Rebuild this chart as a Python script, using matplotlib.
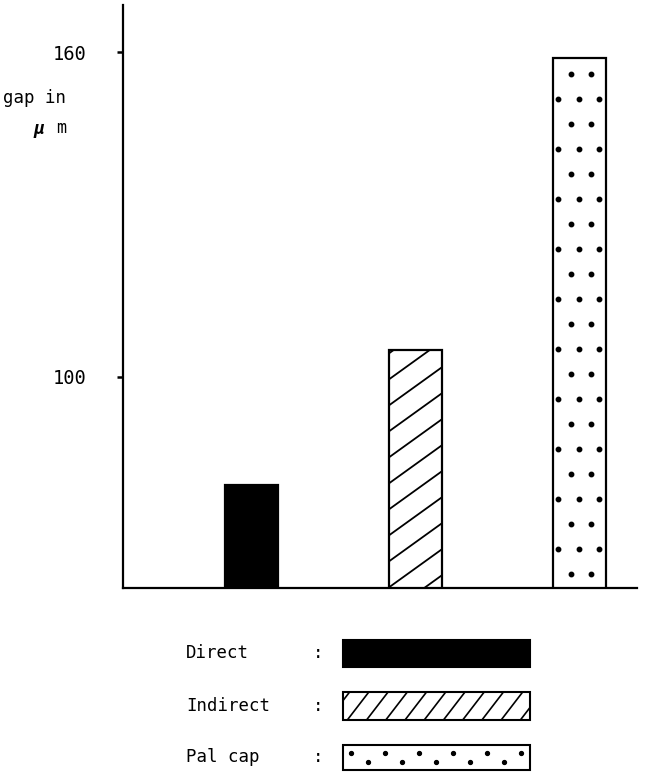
import numpy as np
import matplotlib.pyplot as plt
from matplotlib.patches import Rectangle
from matplotlib.transforms import IdentityTransform

# data
categories = ["Direct", "Indirect", "Pal cap"]
gap_um = [80, 105, 159]
yticks = [100, 160]

W, H = 645, 774
MONO = ["DejaVu Sans Mono"]


def fx(x):
    return x / W


def fy(y):
    return 1 - y / H


def slant_lines(parent, x0, y0, x1, y1, step, slope, lw=1.3):
    # diagonal hatch in display pixels, cut to the box x0..x1, y0..y1
    c = y0 - slope * (x1 - x0) + step / 2
    while c < y1:
        xa = max(x0, x0 + (y0 - c) / slope)
        xb = min(x1, x0 + (y1 - c) / slope)
        if xb > xa:
            xs = np.array([xa, xb])
            ys = c + slope * (xs - x0)
            parent.plot(xs, ys, color="black", lw=lw, transform=IdentityTransform(),
                        clip_on=False, solid_capstyle="butt")
        c += step


def dot_rows(ax, x0, y0, x1, y1, step):
    # alternating rows of 2 and 3 dots, display pixels
    w = x1 - x0
    y = y1 - 16
    row = 0
    xs_all, ys_all = [], []
    while y > y0 + 4:
        fr = [0.33, 0.71] if row % 2 == 0 else [0.09, 0.49, 0.86]
        for f in fr:
            xs_all.append(x0 + f * w)
            ys_all.append(y)
        y -= step
        row += 1
    ax.plot(xs_all, ys_all, "o", color="black", ms=3.2, transform=IdentityTransform(),
            clip_on=False)


fig = plt.figure(figsize=(W / 100, H / 100), dpi=100)
ax = fig.add_axes([fx(123), fy(588), (637 - 123) / W, (588 - 5) / H])

x = np.arange(1, len(categories) + 1)
fills = ["black", "white", "white"]
bars = ax.bar(x, gap_um, width=0.323, color=fills, edgecolor="black", linewidth=1.6, zorder=2)

ax.set_xlim(0.213, 3.35)
ax.set_ylim(61, 168.7)
ax.set_yticks(yticks)
ax.set_yticklabels([str(t) for t in yticks], family=MONO, fontsize=13.5)
ax.set_xticks([])
ax.tick_params(axis="y", direction="out", length=4, width=1.8, pad=22)
for s in ["top", "right"]:
    ax.spines[s].set_visible(False)
for s in ["left", "bottom"]:
    ax.spines[s].set_linewidth(1.6)

# textures on bars
y_bot = ax.get_ylim()[0]
b = bars[1]
(bx0, by0), (bx1, by1) = ax.transData.transform([(b.get_x(), y_bot), (b.get_x() + b.get_width(), b.get_height())])
slant_lines(ax, bx0, by0, bx1, by1, step=26, slope=0.72)

b = bars[2]
(bx0, by0), (bx1, by1) = ax.transData.transform([(b.get_x(), y_bot), (b.get_x() + b.get_width(), b.get_height())])
dot_rows(ax, bx0, by0, bx1, by1, step=25)

# y label
fig.text(fx(66), fy(98), "gap in", family=MONO, fontsize=12.5, ha="right", va="center")
fig.text(fx(33), fy(129), "μ", family=MONO, fontsize=13, style="italic", weight="bold",
         ha="left", va="center")
fig.text(fx(66), fy(128), "m", family=MONO, fontsize=12, ha="right", va="center")

# legend drawn under the chart
leg = fig.add_axes([0, 0, 1, 1], zorder=-1)
leg.set_xlim(0, W)
leg.set_ylim(H, 0)
leg.axis("off")

rows_y = [(640, 667), (692, 720), (745, 770)]
for name, (t, bt) in zip(categories, rows_y):
    yc = (t + bt) / 2
    leg.text(186, yc, name, family=MONO, fontsize=12.5, ha="left", va="center")
    leg.text(318, yc, ":", family=MONO, fontsize=12.5, ha="center", va="center")

leg.add_patch(Rectangle((343, 640), 187, 27, facecolor="black", edgecolor="black", lw=1.5))
leg.add_patch(Rectangle((343, 692), 187, 28, facecolor="white", edgecolor="black", lw=1.5))
leg.add_patch(Rectangle((343, 745), 187, 25, facecolor="white", edgecolor="black", lw=1.5))

# hatch inside Indirect key (display coords: y up)
slant_lines(leg, 343, H - 720, 530, H - 692, step=25, slope=1.3, lw=1.2)

# dots inside Pal cap key
kx = np.arange(351, 530, 17)
ky = np.where(np.arange(len(kx)) % 2 == 0, 753, 762)
leg.plot(kx, ky, "o", color="black", ms=2.8)

fig.savefig("out.png", dpi=100)
